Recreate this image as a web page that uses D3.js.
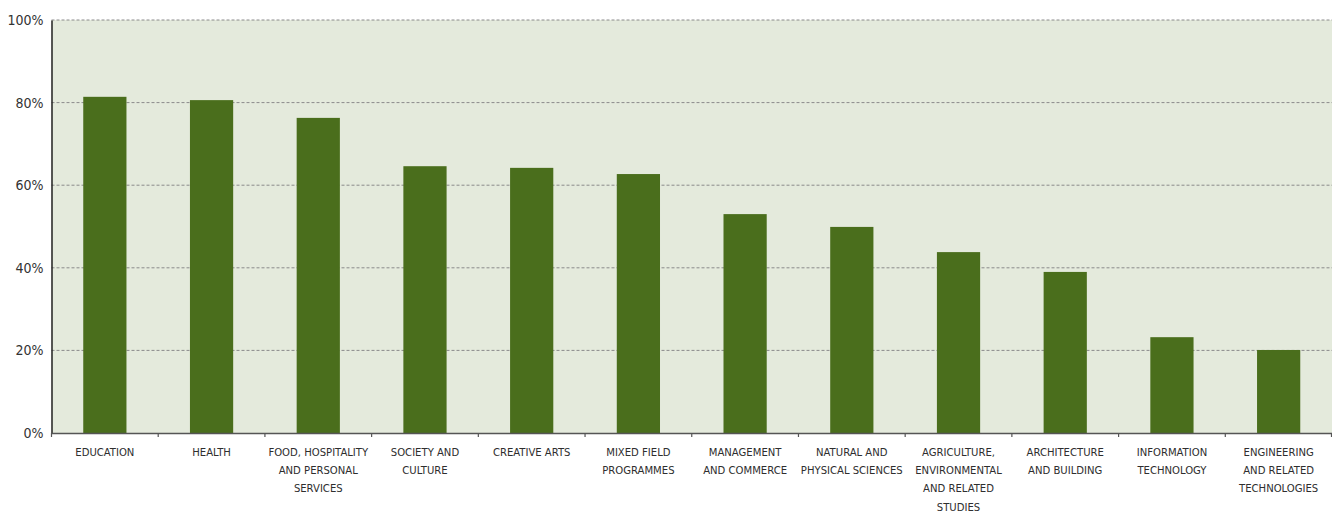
<!DOCTYPE html>
<html><head><meta charset="utf-8">
<script src="https://cdn.jsdelivr.net/npm/d3@7"></script>
<style>
html,body{margin:0;padding:0;background:#fff;}
svg{display:block;}
</style></head>
<body>
<svg id="chart" width="1332" height="513"></svg>
<script>
const categories = [
  ["EDUCATION"],
  ["HEALTH"],
  ["FOOD, HOSPITALITY", "AND PERSONAL", "SERVICES"],
  ["SOCIETY AND", "CULTURE"],
  ["CREATIVE ARTS"],
  ["MIXED FIELD", "PROGRAMMES"],
  ["MANAGEMENT", "AND COMMERCE"],
  ["NATURAL AND", "PHYSICAL SCIENCES"],
  ["AGRICULTURE,", "ENVIRONMENTAL", "AND RELATED", "STUDIES"],
  ["ARCHITECTURE", "AND BUILDING"],
  ["INFORMATION", "TECHNOLOGY"],
  ["ENGINEERING", "AND RELATED", "TECHNOLOGIES"]
];
const values = [81.4, 80.6, 76.3, 64.6, 64.2, 62.7, 53.0, 49.9, 43.8, 39.0, 23.2, 20.1];
const yTicks = [0, 20, 40, 60, 80, 100];

(function draw() {
const svg = d3.select("#chart");
const mLeft = 51.5, mRight = 1332, mTop = 20, mBottom = 433;
const font = "'DejaVu Sans Condensed', 'Liberation Sans Narrow', 'Liberation Sans', sans-serif";

const x = d3.scaleBand().domain(d3.range(categories.length)).range([mLeft, mRight]).padding(0);
const y = d3.scaleLinear().domain([0, 100]).range([mBottom, mTop]);

svg.append("rect").attr("x", mLeft).attr("y", mTop).attr("width", mRight - mLeft).attr("height", mBottom - mTop).attr("fill", "#e4eadc");

// grid
svg.append("g").selectAll("line").data(yTicks.filter(d => d > 0)).join("line")
  .attr("x1", mLeft).attr("x2", mRight)
  .attr("y1", d => y(d)).attr("y2", d => y(d))
  .attr("stroke", "#8a8a8a").attr("stroke-width", 1).attr("stroke-dasharray", "3,2");

// bars
const bw = x.bandwidth() * 0.405;
svg.append("g").selectAll("rect").data(values).join("rect")
  .attr("x", (d, i) => x(i) + x.bandwidth() / 2 - bw / 2)
  .attr("y", d => y(d))
  .attr("width", bw)
  .attr("height", d => y(0) - y(d))
  .attr("fill", "#4a6e1c");

// y axis
const yAxis = svg.append("g").attr("transform", `translate(${mLeft},0)`)
  .call(d3.axisLeft(y).tickValues(yTicks).tickFormat(d => d + "%").tickSize(0).tickPadding(8));
yAxis.select(".domain").attr("stroke", "#222").attr("stroke-width", 1.5);
yAxis.selectAll("text").attr("font-family", font).attr("font-size", 14).attr("fill", "#333");

// x axis
const xAxisG = svg.append("g");
xAxisG.append("line").attr("x1", mLeft).attr("x2", mRight).attr("y1", mBottom + 0.5).attr("y2", mBottom + 0.5)
  .attr("stroke", "#555").attr("stroke-width", 1.5);
xAxisG.selectAll("line.tick").data(d3.range(categories.length + 1)).join("line").attr("class", "tick")
  .attr("x1", i => i < categories.length ? x(i) : mRight - 0.5)
  .attr("x2", i => i < categories.length ? x(i) : mRight - 0.5)
  .attr("y1", mBottom).attr("y2", mBottom + 4)
  .attr("stroke", "#555").attr("stroke-width", 1.2);

const labels = xAxisG.selectAll("text").data(categories).join("text")
  .attr("x", (d, i) => x(i) + x.bandwidth() / 2)
  .attr("y", 456)
  .attr("text-anchor", "middle")
  .attr("font-family", font).attr("font-size", 11.2).attr("fill", "#2e2e2e");
labels.each(function(lines) {
  const el = d3.select(this);
  el.selectAll("tspan").data(lines).join("tspan")
    .attr("x", el.attr("x"))
    .attr("dy", (d, j) => j === 0 ? 0 : 18.2)
    .text(d => d);
});
})();
</script>
</body></html>
